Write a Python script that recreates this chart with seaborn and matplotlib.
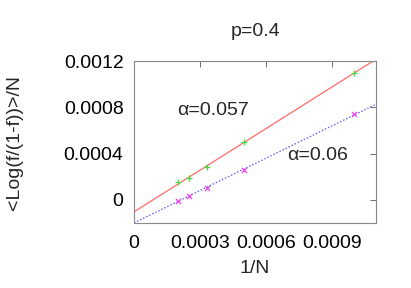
import matplotlib
matplotlib.use("Agg")
import matplotlib.pyplot as plt
import pandas as pd
import seaborn as sns

# data
inv_n = [0.0002, 0.00025, 0.000333, 0.0005, 0.001]
plus_vals = [0.000150, 0.000189, 0.000281, 0.000502, 0.001098]
cross_vals = [-0.000011, 0.000037, 0.000098, 0.000255, 0.000742]

# fitted lines: intercept, slope
fit_upper = (-0.000104, 1.2)
fit_lower = (-0.000200, 0.933)

sns.set_theme(style="white")
plt.rcParams["font.family"] = ["Liberation Sans", "DejaVu Sans"]
fs = 14

fig, ax = plt.subplots(figsize=(4.11, 2.88), dpi=100)
fig.subplots_adjust(left=0.326, right=0.915, top=0.788, bottom=0.226)

df = pd.DataFrame({"inv_n": inv_n, "upper": plus_vals, "lower": cross_vals})

ax.axline((0, fit_upper[0]), slope=fit_upper[1], color="#ff6a6a", lw=0.9)
ax.axline((0, fit_lower[0]), slope=fit_lower[1], color="#5a5aff", lw=0.9,
          linestyle=(0, (1.2, 1.5)))
sns.scatterplot(data=df, x="inv_n", y="upper", marker="+", color="#44dd44",
                s=18, linewidth=0.9, ax=ax, zorder=3)
sns.scatterplot(data=df, x="inv_n", y="lower", marker="x", color="#ee44ee",
                s=14, linewidth=0.9, ax=ax, zorder=3)

ax.set_xlim(0, 0.0011)
ax.set_ylim(-0.0002, 0.0012)
ax.set_xticks([0, 0.0003, 0.0006, 0.0009])
ax.set_xticklabels(["0", "0.0003", "0.0006", "0.0009"])
ax.set_yticks([0, 0.0004, 0.0008, 0.0012])
ax.set_yticklabels(["0", "0.0004", "0.0008", "0.0012"])
ax.tick_params(direction="in", length=4, width=0.6, color="#555555",
               top=True, right=True, labelsize=fs, pad=7.5, labelcolor="black")
ax.tick_params(axis="x", pad=9)
for sp in ax.spines.values():
    sp.set_color("#888888")
    sp.set_linewidth(0.8)

ax.set_xlabel("1/N", fontsize=fs)
ax.set_ylabel("<Log(f/(1-f))>/N", fontsize=fs)
ax.xaxis.label.set_va("center")
ax.yaxis.label.set_va("center")
ax.xaxis.set_label_coords(0.5, -0.28)
ax.yaxis.set_label_coords(-0.492, 0.494)
ax.set_title("p=0.4", fontsize=fs, pad=18)

ax.text(0.000195, 0.000775, "α=0.057", fontsize=fs, va="center")
ax.text(0.000695, 0.000385, "α=0.06", fontsize=fs, va="center")

fig.savefig("out.png", dpi=100)
